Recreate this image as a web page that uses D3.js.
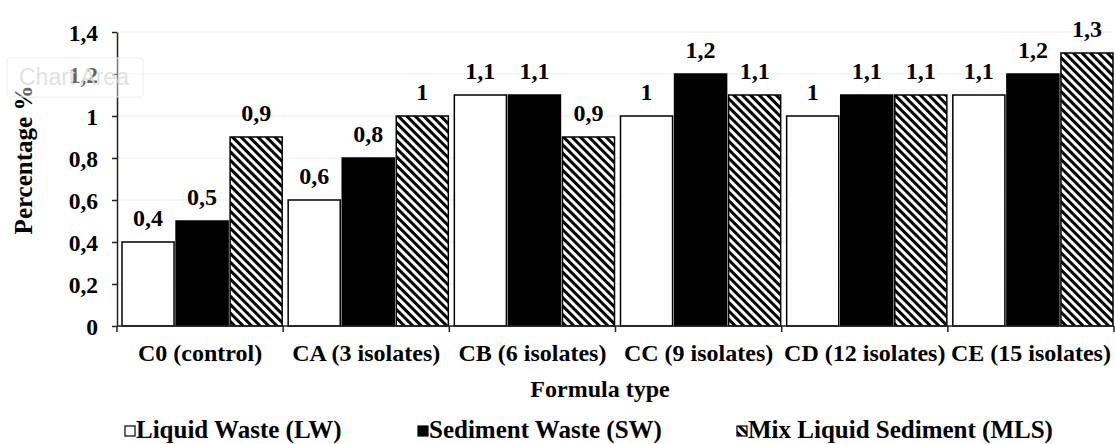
<!DOCTYPE html>
<html>
<head>
<meta charset="utf-8">
<script src="https://cdn.jsdelivr.net/npm/d3@7"></script>
<style>
  body { margin: 0; background: #fff; }
  text { font-family: "Liberation Serif", "Times New Roman", serif; font-weight: bold; fill: #000; }
</style>
</head>
<body>
<script>
var categories = ["C0 (control)", "CA (3 isolates)", "CB (6 isolates)", "CC (9 isolates)", "CD (12 isolates)", "CE (15 isolates)"];
var seriesNames = ["Liquid Waste (LW)", "Sediment Waste (SW)", "Mix Liquid Sediment (MLS)"];
var lwValues = [0.4, 0.6, 1.1, 1.0, 1.0, 1.1];
var swValues = [0.5, 0.8, 1.1, 1.2, 1.1, 1.2];
var mlsValues = [0.9, 1.0, 0.9, 1.1, 1.1, 1.3];
var yTicks = [0, 0.2, 0.4, 0.6, 0.8, 1.0, 1.2, 1.4];

var seriesValues = [lwValues, swValues, mlsValues];
var fills = ["#fff", "#000", "url(#hatch)"];

var width = 1115, height = 444;
var plotLeft = 117, plotRight = 1114, plotTop = 32, plotBottom = 326;

var locale = d3.formatLocale({ decimal: ",", thousands: ".", grouping: [3], currency: ["", ""] });
var fmt = locale.format("~g");

var svg = d3.select("body").append("svg")
  .attr("width", width)
  .attr("height", height);

var defs = svg.append("defs");
var pat = defs.append("pattern")
  .attr("id", "hatch")
  .attr("patternUnits", "userSpaceOnUse")
  .attr("width", 6)
  .attr("height", 6)
  .attr("patternTransform", "rotate(-45)");
pat.append("rect").attr("width", 6).attr("height", 6).attr("fill", "#fff");
pat.append("rect").attr("width", 3).attr("height", 6).attr("fill", "#000");

var x = d3.scaleBand().domain(categories).range([plotLeft, plotRight]);
var x1 = d3.scaleBand().domain(d3.range(seriesNames.length))
  .range([5, x.bandwidth() - 1])
  .paddingInner(0.037);
var y = d3.scaleLinear().domain([0, 1.4]).range([plotBottom, plotTop]);

// gridlines
svg.append("g").selectAll("line")
  .data(yTicks.slice(1))
  .join("line")
    .attr("x1", plotLeft).attr("x2", plotRight)
    .attr("y1", function(d) { return y(d); })
    .attr("y2", function(d) { return y(d); })
    .attr("stroke", "#ededed")
    .attr("stroke-width", 1);

// bars
var rows = [];
categories.forEach(function(c, i) {
  seriesValues.forEach(function(vals, s) {
    rows.push({ cat: c, s: s, value: vals[i] });
  });
});

svg.append("g").selectAll("rect")
  .data(rows)
  .join("rect")
    .attr("x", function(d) { return x(d.cat) + x1(d.s); })
    .attr("y", function(d) { return y(d.value); })
    .attr("width", x1.bandwidth())
    .attr("height", function(d) { return y(0) - y(d.value); })
    .attr("fill", function(d) { return fills[d.s]; })
    .attr("stroke", "#000")
    .attr("stroke-width", 1.5);

svg.append("g").selectAll("text")
  .data(rows)
  .join("text")
    .attr("x", function(d) { return x(d.cat) + x1(d.s) + x1.bandwidth() / 2; })
    .attr("y", function(d) { return y(d.value) - 16; })
    .attr("text-anchor", "middle")
    .style("font-size", "24px")
    .text(function(d) { return fmt(d.value); });

// y axis
var yAxis = svg.append("g")
  .attr("transform", "translate(" + plotLeft + ",0)")
  .call(d3.axisLeft(y).tickValues(yTicks).tickSize(5).tickSizeOuter(0).tickPadding(14).tickFormat(fmt));
yAxis.select(".domain").attr("stroke", "#222").attr("stroke-width", 1.5);
yAxis.selectAll(".tick line").attr("stroke", "#222").attr("stroke-width", 1.5);
yAxis.selectAll("text").style("font-size", "23.5px").style("font-family", null).attr("dy", "0.34em");

// x axis line and boundary ticks
var xLine = svg.append("g");
xLine.append("line")
  .attr("x1", plotLeft).attr("x2", plotRight)
  .attr("y1", y(0)).attr("y2", y(0))
  .attr("stroke", "#222").attr("stroke-width", 1.5);
var bounds = categories.map(function(c) { return x(c); }).concat([x.range()[1]]);
xLine.selectAll(".bt")
  .data(bounds)
  .join("line")
    .attr("class", "bt")
    .attr("x1", function(d) { return d; }).attr("x2", function(d) { return d; })
    .attr("y1", y(0)).attr("y2", y(0) + 6)
    .attr("stroke", "#222").attr("stroke-width", 1.5);

var xAxis = svg.append("g")
  .attr("transform", "translate(0," + y(0) + ")")
  .call(d3.axisBottom(x).tickSize(0).tickPadding(18));
xAxis.select(".domain").remove();
xAxis.selectAll("text").style("font-size", "24px").style("font-family", null);

// axis titles
svg.append("text")
  .attr("x", 600)
  .attr("y", 397)
  .attr("text-anchor", "middle")
  .style("font-size", "24px")
  .text("Formula type");

svg.append("text")
  .attr("transform", "translate(32,160) rotate(-90)")
  .attr("text-anchor", "middle")
  .style("font-size", "25px")
  .text("Percentage %");

// legend
var legendX = [125, 418, 737];
var legend = svg.append("g").selectAll("g")
  .data(seriesNames)
  .join("g")
    .attr("transform", function(d, i) { return "translate(" + legendX[i] + ",426)"; });
legend.append("rect")
  .attr("width", 10).attr("height", 10)
  .attr("fill", function(d, i) { return fills[i]; })
  .attr("stroke", "#000").attr("stroke-width", 1.2);
legend.append("text")
  .attr("x", 11)
  .attr("y", 12)
  .style("font-size", "25px")
  .text(function(d) { return d; });

// faint "Chart Area" tooltip
var tip = svg.append("g");
tip.append("rect")
  .attr("x", 7).attr("y", 58).attr("width", 136).attr("height", 39)
  .attr("rx", 3)
  .attr("fill", "#fff").attr("fill-opacity", 0.4)
  .attr("stroke", "#ececec");
tip.append("text")
  .attr("x", 19).attr("y", 85)
  .style("font-family", "'Liberation Sans', Arial, sans-serif")
  .style("font-weight", "normal")
  .style("font-size", "23px")
  .style("fill", "#dcdcdc")
  .style("fill-opacity", 0.85)
  .text("Chart Area");
</script>
</body>
</html>
